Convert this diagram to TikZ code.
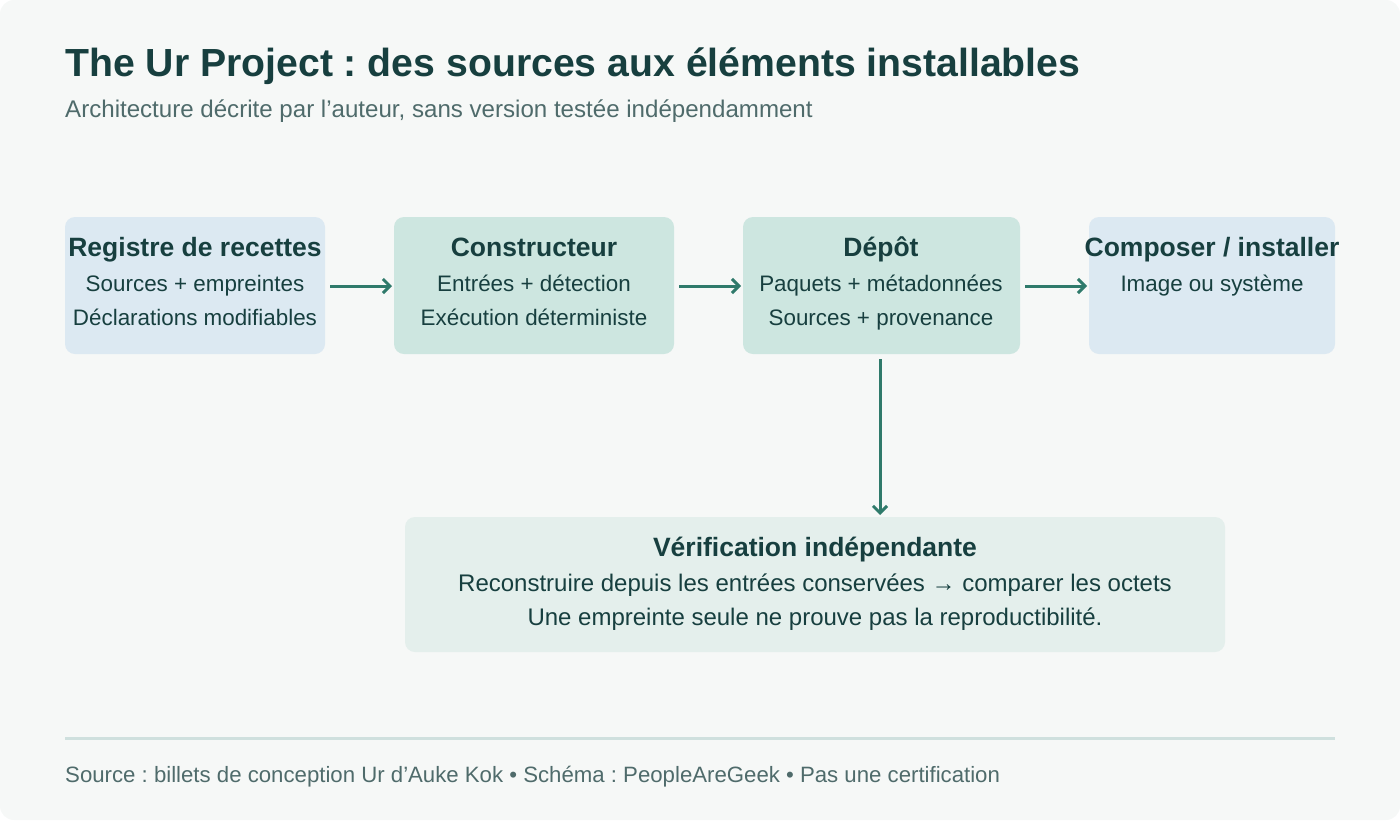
\documentclass[tikz,border=0pt]{standalone}
\usepackage{fontspec}
\setmainfont{Liberation Sans}
\usetikzlibrary{arrows.meta,positioning}
\frenchspacing
\definecolor{fond}{HTML}{F6F8F7}
\definecolor{encre}{HTML}{173F3F}
\definecolor{gris}{HTML}{4F6B6B}
\definecolor{bleu}{HTML}{DCE9F2}
\definecolor{vert}{HTML}{CDE6E0}
\definecolor{pale}{HTML}{E4EFEC}
\definecolor{fleche}{HTML}{2F7A6B}
\definecolor{trait}{HTML}{CFE0DE}
\tikzset{
  boite/.style={rounded corners=10pt, inner sep=0pt},
  titre/.style={font=\bfseries\fontsize{26.5}{30}\selectfont, text=encre, inner sep=0pt},
  ligne/.style={font=\fontsize{22.4}{28}\selectfont, text=encre, inner sep=0pt},
  lien/.style={draw=fleche, line width=3pt, -{Straight Barb[length=7pt,width=14pt]}, shorten <=5pt, shorten >=2pt}
}
\begin{document}
\begin{tikzpicture}[x=1pt,y=-1pt]
\fill[fond, rounded corners=14pt] (0,0) rectangle (1400,820);
\useasboundingbox (0,0) rectangle (1400,820);

\node[anchor=base west, inner sep=0pt, font=\bfseries\fontsize{39.2}{44}\selectfont, text=encre] (titre) at (65,76) {The Ur Project : des sources aux éléments installables};
\node[anchor=base west, inner sep=0pt, font=\fontsize{24.1}{28}\selectfont, text=gris] (soustitre) at (65,117) {Architecture décrite par l’auteur, sans version testée indépendamment};

% boites
\fill[bleu, boite] (65,217) rectangle (325,354);
\fill[vert, boite] (394,217) rectangle (674,354);
\fill[vert, boite] (743,217) rectangle (1020,354);
\fill[bleu, boite] (1089,217) rectangle (1335,354);
\fill[pale, boite] (405,517) rectangle (1225,652);
\coordinate (registre) at (325,286);
\coordinate (constrE) at (394,286);
\coordinate (constrS) at (674,286);
\coordinate (depotE) at (743,286);
\coordinate (depotS) at (1020,286);
\coordinate (depotB) at (880,354);
\coordinate (composer) at (1089,286);
\coordinate (verif) at (880,517);

\node[titre, anchor=base] (r1) at (195,256) {Registre de recettes};
\node[ligne, anchor=base] (r2) at (195,291) {Sources + empreintes};
\node[ligne, anchor=base] (r3) at (195,325) {Déclarations modifiables};

\node[titre, anchor=base] (c1) at (534,256) {Constructeur};
\node[ligne, anchor=base] (c2) at (534,291) {Entrées + détection};
\node[ligne, anchor=base] (c3) at (534,325) {Exécution déterministe};

\node[titre, anchor=base] (d1) at (881,256) {Dépôt};
\node[ligne, anchor=base] (d2) at (881,291) {Paquets + métadonnées};
\node[ligne, anchor=base] (d3) at (881,325) {Sources + provenance};

\node[titre, anchor=base] (p1) at (1212,256) {Composer / installer};
\node[ligne, anchor=base] (p2) at (1212,291) {Image ou système};

\node[titre, anchor=base] (v1) at (815,556) {Vérification indépendante};
\node[ligne, anchor=base, font=\fontsize{24}{28}\selectfont] (v2) at (815,591) {Reconstruire depuis les entrées conservées → comparer les octets};
\node[ligne, anchor=base, font=\fontsize{24}{28}\selectfont] (v3) at (815,625) {Une empreinte seule ne prouve pas la reproductibilité.};

% fleches
\draw[lien] (registre) -- (constrE);
\draw[lien] (constrS) -- (depotE);
\draw[lien] (depotS) -- (composer);
\draw[lien] (depotB) -- (verif);

\draw[trait, line width=3pt] (65,738) -- (1335,738);
\node[anchor=base west, inner sep=0pt, font=\fontsize{22.2}{26}\selectfont, text=gris] (pied) at (65,782) {Source : billets de conception Ur d’Auke Kok • Schéma : PeopleAreGeek • Pas une certification};
\end{tikzpicture}
\end{document}
